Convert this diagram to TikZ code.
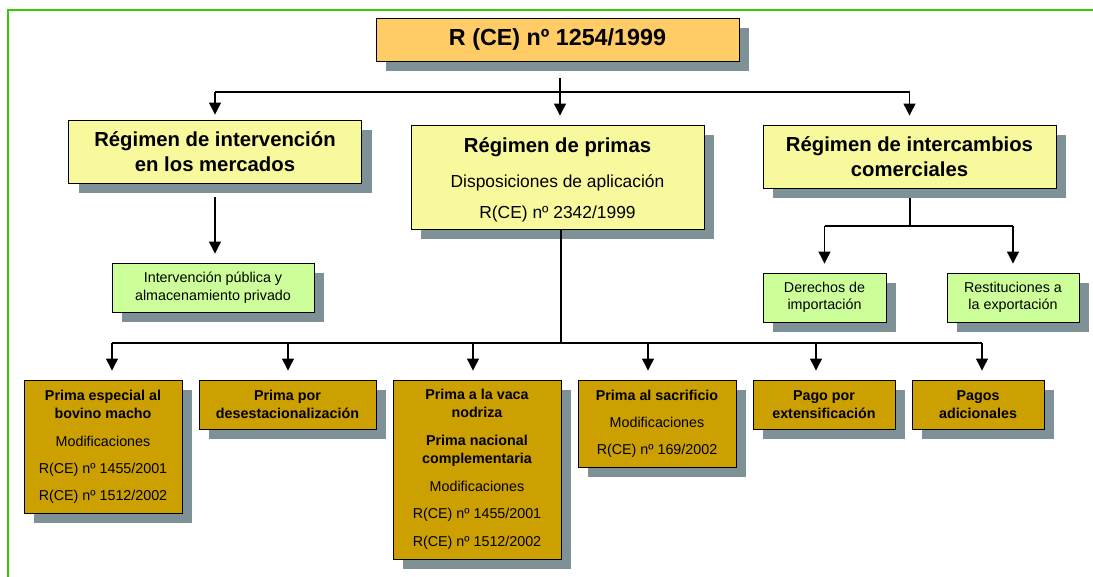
\documentclass[tikz,border=0pt]{standalone}
\usepackage{fontspec}
\setmainfont{Liberation Sans}
\usetikzlibrary{arrows.meta,shadows}
\definecolor{framegreen}{HTML}{33CC00}
\definecolor{shade}{HTML}{7D9196}
\definecolor{topfill}{HTML}{FFCC66}
\definecolor{yelfill}{HTML}{F8F89C}
\definecolor{grnfill}{HTML}{CCFF99}
\definecolor{goldfill}{HTML}{CCA000}
\begin{document}
\begin{tikzpicture}[x=1pt, y=-1pt,
  box/.style = {draw, line width=0.9pt, inner sep=0pt, align=center,
    drop shadow={shadow xshift=10pt, shadow yshift=-10pt, fill=shade, opacity=1}},
  top/.style = {box, fill=topfill, minimum width=363pt, minimum height=43pt,
    font=\fontsize{23.3}{28}\selectfont\bfseries},
  reg/.style = {box, fill=yelfill, minimum width=293pt,
    font=\fontsize{20.3}{25}\selectfont\bfseries},
  sub/.style = {box, fill=grnfill, minimum height=49pt,
    font=\fontsize{14.3}{17.5}\selectfont},
  prima/.style = {box, fill=goldfill, font=\fontsize{14.3}{18}\selectfont},
  wire/.style = {line width=1.2pt},
  arr/.style = {wire, -{Triangle[width=12pt,length=12pt]}, shorten >=9pt}]

\useasboundingbox (0,0) rectangle (1093,577);
\draw[framegreen, line width=2pt] (1093,10) -- (8,10) -- (8,577);

\node[top] (top) at (557.5,39.5) {R (CE) nº 1254/1999};

\node[reg, minimum height=63pt] (merc) at (215,151.5) {Régimen de intervención\\en los mercados};
\node[reg, minimum height=104pt, font=\fontsize{17.4}{31}\selectfont] (prim) at (557.5,177)
  {\rule{0pt}{21pt}\textbf{\fontsize{20.3}{24}\selectfont Régimen de primas}\\[4pt]Disposiciones de aplicación\\R(CE) nº 2342/1999};
\node[reg, minimum height=63pt] (inter) at (909.5,156.5) {Régimen de intercambios\\comerciales};

\node[sub, minimum width=202pt] (pub) at (213,287.5) {Intervención pública y\\almacenamiento privado};
\node[sub, minimum width=123pt] (imp) at (824.5,297.5) {Derechos de\\importación};
\node[sub, minimum width=132pt] (exp) at (1013,297.5) {Restituciones a\\la exportación};

\node[prima, minimum width=158pt, minimum height=133pt] (p1) at (103,446.5)
  {\textbf{Prima especial al}\\\textbf{bovino macho}\\[10pt]Modificaciones\\[9pt]R(CE) nº 1455/2001\\[9pt]R(CE) nº 1512/2002};
\node[prima, minimum width=177pt, minimum height=49pt] (p2) at (287.5,404.5)
  {\textbf{Prima por}\\\textbf{desestacionalización}};
\node[prima, minimum width=168pt, minimum height=179pt] (p3) at (477,469.5)
  {\textbf{Prima a la vaca}\\\textbf{nodriza}\\[10pt]\textbf{Prima nacional}\\\textbf{complementaria}\\[10pt]Modificaciones\\[9pt]R(CE) nº 1455/2001\\[10pt]R(CE) nº 1512/2002};
\node[prima, minimum width=158pt, minimum height=87pt] (p4) at (657,423.5)
  {\textbf{Prima al sacrificio}\\[9pt]Modificaciones\\[9pt]R(CE) nº 169/2002};
\node[prima, minimum width=142pt, minimum height=49pt] (p5) at (824,404.5)
  {\textbf{Pago por}\\\textbf{extensificación}};
\node[prima, minimum width=132pt, minimum height=49pt] (p6) at (978,404.5)
  {\textbf{Pagos}\\\textbf{adicionales}};

% first level
\coordinate (b0) at (560,92);
\draw[wire, shorten <=17pt] (top.south -| b0) -- (b0);
\draw[wire] (b0 -| merc.north) -- (b0 -| inter.north);
\draw[arr, shorten >=5pt] (b0 -| merc.north) -- (merc.north);
\draw[arr] (b0) -- (b0 |- prim.north);
\draw[arr] (b0 -| inter.north) -- (inter.north);

% intervencion
\draw[arr, shorten <=14pt] (merc.south) -- (merc.south |- pub.north);

% intercambios
\coordinate (b1) at (910,226);
\draw[wire, shorten <=10pt] (inter.south -| b1) -- (b1);
\draw[wire] (b1 -| imp.north) -- (b1 -| exp.north);
\draw[arr] (b1 -| imp.north) -- (imp.north);
\draw[arr] (b1 -| exp.north) -- (exp.north);

% primas
\coordinate (b2) at (561,343);
\foreach \n/\x in {p1/112, p2/288, p3/473, p4/648, p5/816, p6/982}
  \coordinate (j\n) at (\x,343);
\draw[wire] (b2 |- prim.south) -- (b2);
\draw[wire] (jp1) -- (jp6);
\foreach \n in {p1,p2,p3,p4,p5,p6}
  \draw[arr] (j\n) -- (j\n |- \n.north);

\end{tikzpicture}
\end{document}
